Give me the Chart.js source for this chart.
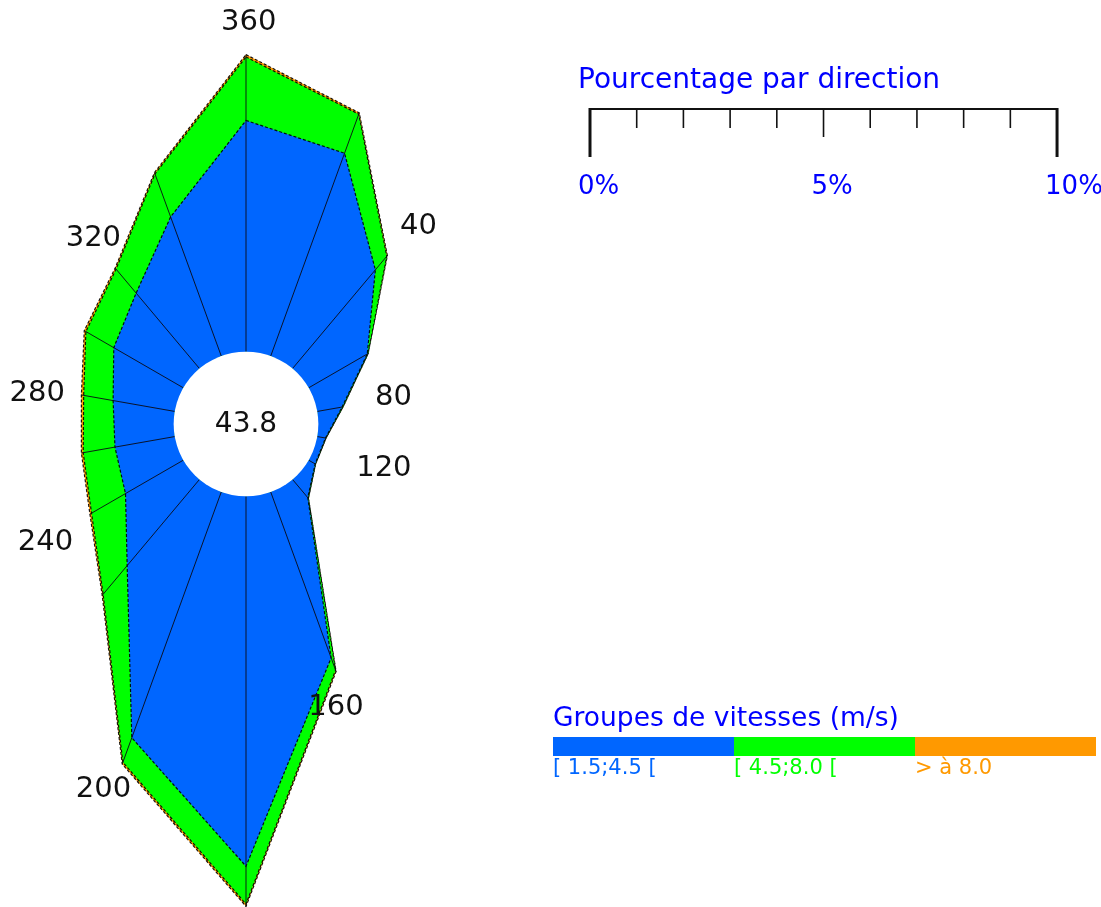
<!DOCTYPE html>
<html>
<head>
<meta charset="utf-8">
<title>Rose des vents</title>
<script src="https://cdn.jsdelivr.net/npm/chart.js@4.4.1/dist/chart.umd.min.js"></script>
<style>
  html, body { margin: 0; padding: 0; background: #ffffff; overflow: hidden; }
  #page { position: relative; width: 1101px; height: 907px; overflow: hidden; }
  #rose { position: absolute; left: 0; top: -60px; display: block; }
</style>
</head>
<body>
<div id="page"><canvas id="rose" width="1101" height="968"></canvas></div>
<script>
// ---- Data: frequency (%) per direction sector, per speed group ----
const directions = [360, 20, 40, 60, 80, 100, 120, 140, 160, 180, 200, 220, 240, 260, 280, 300, 320, 340];
const calmPct = 43.8;
const speedLow  = [4.95, 4.62, 2.76, 1.45, 0.54, 0.18, 0.16, 0.51, 3.78, 7.92, 5.60, 2.41, 1.43, 1.30, 1.34, 1.72, 2.11, 3.17];
const speedMid  = [1.36, 0.89, 0.38, 0.02, 0.02, 0.01, 0.01, 0.02, 0.28, 0.81, 0.56, 0.80, 0.84, 0.69, 0.64, 0.69, 0.67, 0.98];
const speedHigh = [0.05, 0.03, 0.02, 0.00, 0.00, 0.00, 0.00, 0.00, 0.03, 0.05, 0.04, 0.03, 0.04, 0.04, 0.05, 0.04, 0.03, 0.03];
const speedGroups = ['[ 1.5;4.5 [', '[ 4.5;8.0 [', '> à 8.0'];
const speedColors = ['#0066ff', '#00ff00', '#ff9900'];
const labeledDirections = [360, 40, 80, 120, 160, 200, 240, 280, 320];
const rulerTicks = [0, 1, 2, 3, 4, 5, 6, 7, 8, 9, 10];
const rulerLabels = { 0: '0%', 5: '5%', 10: '10%' };

// ---- Layout ----
const SHIFT = 60;                 // canvas sits this many px above the page top
const PX_PER_PCT = 46.8;          // radial pixels per percent
const HOLE_PX = 72.5;             // radius of the calm circle
const AREA_W = 493;               // width of the chart area holding the rose
const R_MIN = -HOLE_PX / PX_PER_PCT;
const R_MAX = R_MIN + (AREA_W / 2) / PX_PER_PCT;
// where each direction label sits: bearing (deg) and radial value (%)
const dirLabelPlacement = {
  360: [0.4, 7.04], 40: [41.1, 4.07], 80: [79.7, 1.66], 120: [107.7, 1.55],
  160: [162.4, 4.82], 200: [201.3, 6.85], 240: [239.4, 3.44], 280: [278.4, 2.97], 320: [320.6, 3.60]
};
const FONT = '"DejaVu Sans", Verdana, sans-serif';

// cumulative rings, innermost first
const ringLow  = speedLow.slice();
const ringMid  = speedLow.map((v, i) => v + speedMid[i]);
const ringHigh = ringMid.map((v, i) => v + speedHigh[i]);

const roseDecor = {
  id: 'roseDecor',
  afterDatasetsDraw(chart) {
    const s = chart.scales.r;
    const ctx = chart.ctx;
    ctx.save();
    // spokes from the calm circle to the outer ring
    ctx.strokeStyle = 'rgba(10,10,20,0.9)';
    ctx.lineWidth = 1;
    directions.forEach((d, i) => {
      const a = s.getPointPositionForValue(i, 0);
      const b = s.getPointPositionForValue(i, ringHigh[i]);
      ctx.beginPath();
      ctx.moveTo(a.x, a.y);
      ctx.lineTo(b.x, b.y);
      ctx.stroke();
    });
    // calm circle
    const r0 = s.getDistanceFromCenterForValue(0);
    ctx.beginPath();
    ctx.arc(s.xCenter, s.yCenter, r0, 0, Math.PI * 2);
    ctx.fillStyle = '#ffffff';
    ctx.fill();
    ctx.fillStyle = '#111111';
    ctx.font = '28px ' + FONT;
    ctx.textAlign = 'center';
    ctx.textBaseline = 'middle';
    ctx.fillText(calmPct.toFixed(1), s.xCenter, s.yCenter + 1);
    // direction labels
    ctx.font = '29px ' + FONT;
    labeledDirections.forEach(d => {
      const [deg, pct] = dirLabelPlacement[d];
      const dist = s.getDistanceFromCenterForValue(pct);
      const t = deg * Math.PI / 180;
      ctx.fillText(String(d), s.xCenter + dist * Math.sin(t), s.yCenter - dist * Math.cos(t));
    });
    ctx.restore();
  },
  afterDraw(chart) {
    const s = chart.scales.r;
    const ctx = chart.ctx;
    const unit = s.getDistanceFromCenterForValue(1) - s.getDistanceFromCenterForValue(0);
    ctx.save();
    ctx.translate(0, SHIFT);
    // percentage ruler
    const x0 = 590, y0 = 109;
    ctx.fillStyle = '#0000ff';
    ctx.font = '28px ' + FONT;
    ctx.textAlign = 'left';
    ctx.textBaseline = 'alphabetic';
    ctx.fillText('Pourcentage par direction', 578, 88);
    ctx.font = '26px ' + FONT;
    ctx.strokeStyle = '#111111';
    ctx.lineWidth = 2;
    ctx.beginPath();
    ctx.moveTo(x0, y0);
    ctx.lineTo(x0 + 10 * unit, y0);
    ctx.stroke();
    rulerTicks.forEach(t => {
      const x = x0 + t * unit;
      const major = t === 0 || t === 10;
      const len = major ? 48 : (t === 5 ? 28 : 19);
      ctx.lineWidth = major ? 3 : 1.6;
      ctx.beginPath();
      ctx.moveTo(x, y0 - 1);
      ctx.lineTo(x, y0 + len);
      ctx.stroke();
      if (rulerLabels[t]) {
        ctx.fillText(rulerLabels[t], x - 12, 194);
      }
    });
    // speed group legend
    ctx.font = '26.5px ' + FONT;
    ctx.fillText('Groupes de vitesses (m/s)', 553, 726);
    const bw = 181;
    ctx.font = '21px ' + FONT;
    speedGroups.forEach((g, i) => {
      const x = 553 + i * bw;
      ctx.fillStyle = speedColors[i];
      ctx.fillRect(x, 737, bw, 19);
      ctx.fillText(g, x, 774);
    });
    ctx.restore();
  }
};

function ring(label, data, color) {
  return {
    label, data,
    backgroundColor: color,
    borderColor: 'rgba(0,0,0,0.9)',
    borderWidth: 1.2,
    borderDash: [3, 2],
    fill: 'origin',
    pointRadius: 0,
    pointHoverRadius: 0,
    tension: 0,
    clip: false
  };
}

const canvas = document.getElementById('rose');
new Chart(canvas, {
  type: 'radar',
  data: {
    labels: directions.map(String),
    datasets: [
      ring(speedGroups[0], ringLow, speedColors[0]),
      ring(speedGroups[1], ringMid, speedColors[1]),
      ring(speedGroups[2], ringHigh, speedColors[2])
    ]
  },
  options: {
    responsive: false,
    animation: false,
    devicePixelRatio: 1,
    layout: { padding: { left: 0, top: 0, right: canvas.width - AREA_W, bottom: 0 } },
    plugins: { legend: { display: false }, tooltip: { enabled: false } },
    scales: {
      r: {
        min: R_MIN,
        max: R_MAX,
        ticks: { display: false },
        grid: { display: false },
        angleLines: { display: false },
        pointLabels: { display: false }
      }
    }
  },
  plugins: [roseDecor]
});
</script>
</body>
</html>
